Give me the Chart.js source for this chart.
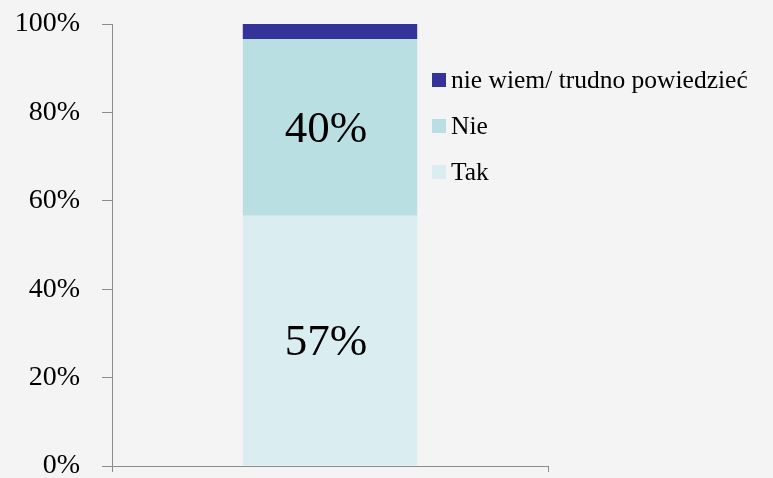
<!DOCTYPE html>
<html>
<head>
<meta charset="utf-8">
<script src="https://cdn.jsdelivr.net/npm/chart.js@4"></script>
<style>
  html, body { margin: 0; padding: 0; background: #f4f4f4; }
  #wrap { position: relative; width: 773px; height: 478px; }
  #legenda { position: absolute; left: 432px; top: 57px; font-family: "Liberation Serif", serif; font-size: 25.5px; color: #000; }
  #legenda div { height: 46px; line-height: 46px; white-space: nowrap; }
  #legenda span { display: inline-block; width: 14px; height: 14px; margin-right: 5px; vertical-align: 1px; }
</style>
</head>
<body>
<div id="wrap">
  <canvas id="grafico" width="773" height="478"></canvas>
  <div id="legenda"></div>
</div>
<script>
var kategorie = [''];
var serie = ['Tak', 'Nie', 'nie wiem/ trudno powiedzieć'];
var tak = [56.6];
var nie = [40.0];
var nieWiem = [3.4];
var kolory = ['#daedf0', '#badfe2', '#333399'];
var yTicks = [0, 20, 40, 60, 80, 100];

// etykiety na slupkach (tylko Tak i Nie)
var etykiety = {
    id: 'etykiety',
    afterDatasetsDraw: function(chart) {
        var ctx = chart.ctx;
        ctx.save();
        ctx.font = '45px "Liberation Serif", serif';
        ctx.fillStyle = '#000';
        ctx.textAlign = 'center';
        ctx.textBaseline = 'middle';
        [0, 1].forEach(function(i) {
            var meta = chart.getDatasetMeta(i);
            meta.data.forEach(function(el, j) {
                var p = el.getCenterPoint();
                ctx.fillText(Math.round(chart.data.datasets[i].data[j]) + '%', p.x - 4, p.y + 3);
            });
        });
        ctx.restore();
    }
};

var ctx = document.getElementById('grafico').getContext('2d');
var myChart = new Chart(ctx, {
    type: 'bar',
    data: {
        labels: kategorie,
        datasets: [
            { label: serie[0], data: tak, backgroundColor: kolory[0] },
            { label: serie[1], data: nie, backgroundColor: kolory[1] },
            { label: serie[2], data: nieWiem, backgroundColor: kolory[2] }
        ]
    },
    options: {
        responsive: false,
        animation: false,
        layout: { padding: { top: 24, right: 225, left: 0, bottom: 0 } },
        datasets: { bar: { barPercentage: 0.8, categoryPercentage: 0.5 } },
        scales: {
            x: {
                stacked: true,
                offset: true,
                ticks: { display: false },
                grid: { offset: true, drawOnChartArea: false, tickLength: 6, color: '#8c8c8c' },
                border: { color: '#8c8c8c', width: 1 },
                afterFit: function(s) { s.height = 12; s.paddingLeft = 0; s.paddingRight = 0; }
            },
            y: {
                stacked: true,
                min: 0,
                max: 100,
                afterBuildTicks: function(s) { s.ticks = yTicks.map(function(v) { return { value: v }; }); },
                ticks: {
                    padding: 22,
                    color: '#000',
                    font: { family: '"Liberation Serif", serif', size: 28 },
                    callback: function(v) { return v + '%'; }
                },
                grid: { drawOnChartArea: false, tickLength: 10, color: '#8c8c8c' },
                border: { color: '#8c8c8c', width: 1 },
                afterFit: function(s) { s.width = 112; s.paddingTop = 0; s.paddingBottom = 0; }
            }
        },
        plugins: {
            legend: { display: false },
            tooltip: { enabled: false }
        }
    },
    plugins: [etykiety]
});

// legenda w odwrotnej kolejnosci
var leg = document.getElementById('legenda');
for (var i = serie.length - 1; i >= 0; i--) {
    var d = document.createElement('div');
    d.innerHTML = '<span style="background:' + kolory[i] + '"></span>' + serie[i];
    leg.appendChild(d);
}
</script>
</body>
</html>
